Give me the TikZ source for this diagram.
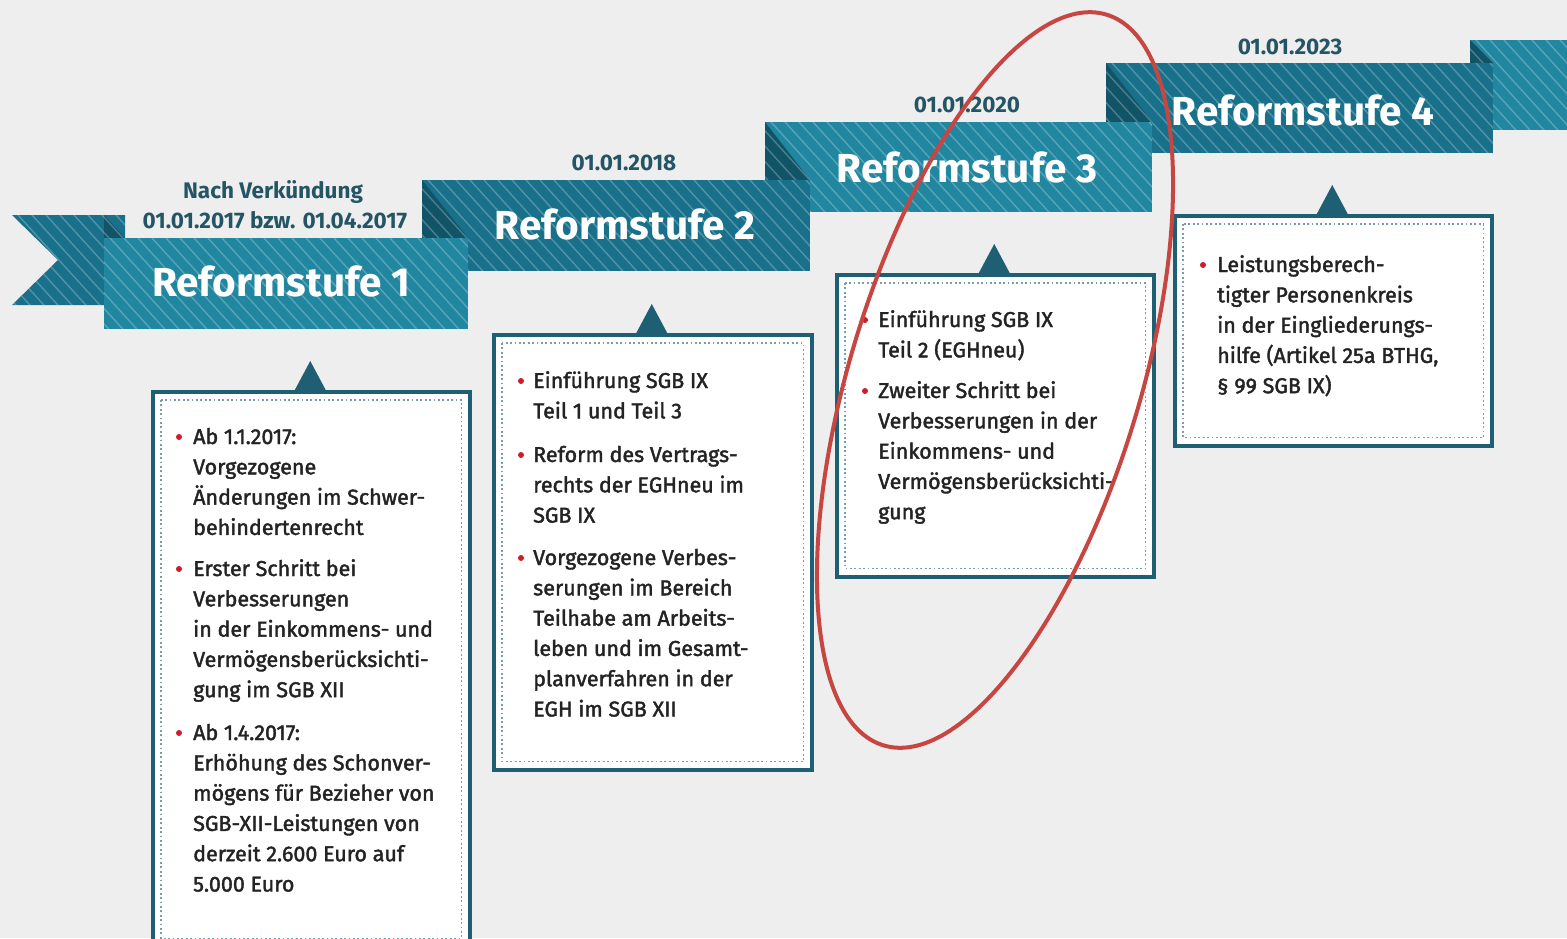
\documentclass[tikz,border=0pt]{standalone}
\usepackage{fontspec}
\setmainfont{Fira Sans}
\newfontfamily\medfont{Fira Sans}[FakeBold=1.8]
\usetikzlibrary{calc}
\definecolor{bg}{RGB}{238,238,238}
\definecolor{tealL}{RGB}{33,134,160}
\definecolor{tealD}{RGB}{24,112,138}
\definecolor{tealF}{RGB}{17,84,104}
\definecolor{framec}{RGB}{30,95,115}
\definecolor{dotc}{RGB}{120,158,168}
\definecolor{datec}{RGB}{35,85,100}
\definecolor{txtc}{RGB}{35,35,35}
\definecolor{bulc}{RGB}{205,30,40}
\definecolor{ringc}{RGB}{200,70,65}
\newcommand\mystripes[4]{%
  \begin{scope}
    \clip (#1,#2) rectangle (#3,#4);
    \foreach \s in {-120,-106,...,420} {\draw[stripe] (#1+\s,#2) -- ++(100,110);}
  \end{scope}}
\tikzset{
  stripe/.style={white, opacity=0.25, line width=1.4pt},
  fold/.style={fill=tealF},
  infobox/.style={draw=framec, line width=3.5pt, fill=white, anchor=north west, inner sep=0pt},
  dotline/.style={draw=dotc, line width=1.8pt, dash pattern=on 1.8pt off 2.6pt},
  pointer/.style={fill=framec},
  stage/.style={text=white, font=\bfseries\fontsize{40.5}{46}\selectfont, inner sep=0pt},
  datelabel/.style={text=datec, font=\bfseries\fontsize{22.5}{26}\selectfont, inner sep=0pt},
  itemtext/.style={text=txtc, anchor=base west, inner sep=0pt, font=\medfont\fontsize{21.5}{30.3}\selectfont},
  bullet/.style={fill=bulc},
}
\newcommand\itm[1]{\parbox[t]{320pt}{\raggedright #1}}
\begin{document}
\begin{tikzpicture}[x=1pt,y=-1pt]
\fill[bg] (0,0) rectangle (1567,938);
\useasboundingbox (0,0) rectangle (1567,938);
\clip (0,0) rectangle (1567,938);

% tail at right
\fill[tealL] (1470,40) rectangle (1580,130);
\fill[fold] (1470,40) -- (1470,63) -- (1493,63) -- cycle;
\mystripes{1470}{40}{1580}{130}
% band 4
\fill[tealD] (1106,63) rectangle (1493,153);
\fill[fold] (1106,63) -- (1106,122) -- (1152,122) -- cycle;
\mystripes{1106}{63}{1493}{153}
% band 3
\fill[tealL] (765,122) rectangle (1152,212);
\fill[fold] (765,122) -- (765,180) -- (810,180) -- cycle;
\mystripes{765}{122}{1152}{212}
% band 2
\fill[tealD] (422,180) rectangle (810,271);
\fill[fold] (422,180) -- (422,238) -- (468,238) -- cycle;
\mystripes{422}{180}{810}{271}
% tail at left
\fill[tealD] (12,215) -- (125,215) -- (125,305) -- (12,305) -- (58,260) -- cycle;
\fill[fold] (104,215) -- (104,238) -- (125,238) -- cycle;
\begin{scope}
  \clip (12,215) -- (125,215) -- (125,305) -- (12,305) -- (58,260) -- cycle;
  \foreach \s in {-120,-106,...,140} {\draw[stripe] (12+\s,215) -- ++(100,110);}
\end{scope}
% band 1
\fill[tealL] (104,238) rectangle (468,329);
\mystripes{104}{238}{468}{329}

% stage labels
\node[stage] (s1) at (281,281) {Reformstufe 1};
\node[stage] (s2) at (625,224) {Reformstufe 2};
\node[stage] (s3) at (967,167) {Reformstufe 3};
\node[stage] (s4) at (1303,110) {Reformstufe 4};

% dates
\node[datelabel] (d1a) at (273,192) {Nach Verkündung};
\node[datelabel] (d1b) at (275,220) {01.01.2017 bzw. 01.04.2017};
\node[datelabel] (d2) at (624,163) {01.01.2018};
\node[datelabel] (d3) at (967,105) {01.01.2020};
\node[datelabel] (d4) at (1290,47) {01.01.2023};

% boxes
\node[infobox, minimum width=317pt, minimum height=555pt] (b1) at (151,390) {};
\node[infobox, minimum width=318pt, minimum height=435pt] (b2) at (492,333) {};
\node[infobox, minimum width=317pt, minimum height=302pt] (b3) at (835,273) {};
\node[infobox, minimum width=317pt, minimum height=230pt] (b4) at (1173,214) {};
\foreach \b in {b1,b2,b3,b4} {
  \draw[dotline] ($(\b.north west)+(10,10)$) rectangle ($(\b.south east)+(-10,-10)$);
  \fill[pointer] ($(\b.north)+(-17,1)$) -- ($(\b.north)+(-1,-29)$) -- ($(\b.north)+(15,1)$) -- cycle;
}

% box 1 items
\fill[bullet] (179,437) circle (3pt);
\node[itemtext] (t11) at (193,444) {\itm{Ab 1.1.2017:\\Vorgezogene\\Änderungen im Schwer-\\behindertenrecht}};
\fill[bullet] (179,569) circle (3pt);
\node[itemtext] (t12) at (193,576) {\itm{Erster Schritt bei\\Verbesserungen\\in der Einkommens- und\\Vermögensberücksichti-\\gung im SGB XII}};
\fill[bullet] (179,733) circle (3pt);
\node[itemtext] (t13) at (193,740) {\itm{Ab 1.4.2017:\\Erhöhung des Schonver-\\mögens für Bezieher von\\SGB-XII-Leistungen von\\derzeit 2.600 Euro auf\\5.000 Euro}};

% box 2 items
\fill[bullet] (521,381) circle (3pt);
\node[itemtext] (t21) at (533,388) {\itm{Einführung SGB IX\\Teil 1 und Teil 3}};
\fill[bullet] (521,455) circle (3pt);
\node[itemtext] (t22) at (533,462) {\itm{Reform des Vertrags-\\rechts der EGHneu im\\SGB IX}};
\fill[bullet] (521,558) circle (3pt);
\node[itemtext] (t23) at (533,565) {\itm{Vorgezogene Verbes-\\serungen im Bereich\\Teilhabe am Arbeits-\\leben und im Gesamt-\\planverfahren in der\\EGH im SGB XII}};

% box 3 items
\fill[bullet] (865,320) circle (3pt);
\node[itemtext] (t31) at (878,327) {\itm{Einführung SGB IX\\Teil 2 (EGHneu)}};
\fill[bullet] (865,391) circle (3pt);
\node[itemtext] (t32) at (878,398) {\itm{Zweiter Schritt bei\\Verbesserungen in der\\Einkommens- und\\Vermögensberücksichti-\\gung}};

% box 4 items
\fill[bullet] (1203,265) circle (3pt);
\node[itemtext] (t41) at (1217,272) {\itm{Leistungsberech-\\tigter Personenkreis\\in der Eingliederungs-\\hilfe (Artikel 25a BTHG,\\§ 99 SGB IX)}};

% red ellipse
\draw[ringc, line width=4pt, rotate around={-17:(995,380)}] (995,380) ellipse [x radius=145pt, y radius=382pt];
\end{tikzpicture}
\end{document}
